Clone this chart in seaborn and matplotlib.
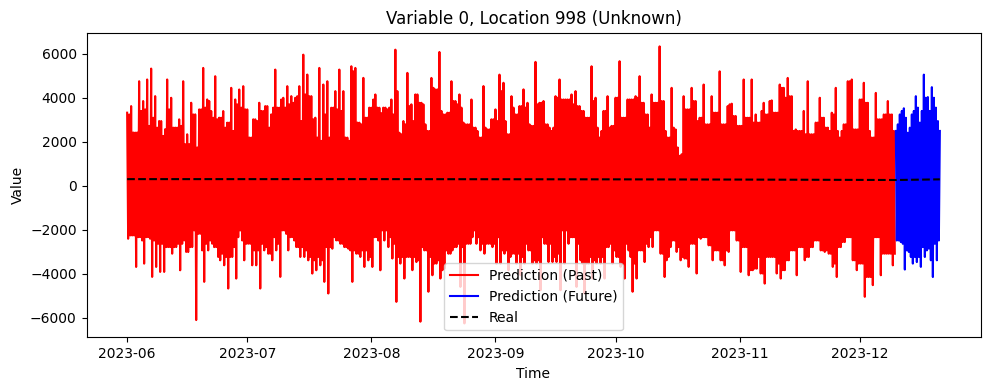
import numpy as np
import pandas as pd
import matplotlib
matplotlib.use("Agg")
import matplotlib.pyplot as plt
import seaborn as sns

past_high = [3320,3620,2415,4750,3850,4830,5325,4073,2942,2264,4830,3998,2641,3018,4750,2339,3772,3244,3470,5355,3923,3395,4978,3093,3395,2867,4450,3923,4375,4526,3470,2188,3018,3772,3395,3620,3244,5280,3546,3998,4526,4073,3998,4526,5958,5054,4073,3093,5355,4601,4750,3546,4300,5280,4300,2188,5431,5355,2867,4903,3093,3546,4149,3546,
3550,3470,3920,6185,2410,2940,5130,3700,4150,3770,3700,2490,4900,4375,6080,3240,3320,4750,3850,4150,2870,2790,3920,2640,2190,4530,2560,3020,3470,5050,4680,2340,4070,3240,3620,4380,3770,2720,5630,3770,3850,2790,2490,4070,4830,3920,3920,4150,4300,3620,3400,3090,5430,4000,2190,3400,4070,2720,4000,5660,3090,3920,3920,4070,4980,3770,3240,
4150,3770,6335,3850,2190,4450,2560,1360,4070,3470,4450,3850,3090,4600,2790,4070,3320,5200,2790,3620,3730,3170,2720,4830,3090,4830,3240,2870,3770,3240,3880,3320,4600,4450,4900,4070,2560,2490,3400,4750,2340,2870,4000,3090,2640,3320,4450,2190,2790,4750,4830,2560,3920,4680,3770,2190,4220,3020,3240,3850,3240]
past_low = [-2411,-2260,-3693,-2336,-3542,-2336,-4145,-3693,-3919,-3919,-2788,-3090,-2788,-3844,-2486,-3014,-2788,-6106,-2185,-4371,-2939,-2637,-2788,-3391,-3617,-4673,-3240,-4221,-2034,-3391,-2637,-3617,-3617,-4673,-2939,-3090,-3391,-2939,-4145,-2034,-2939,-2336,-2788,-3240,-3240,-3391,-3994,-3844,-3617,-4371,-4899,-2863,-2486,-2637,-2788,-2863,-4371,-3090,-3240,-3693,-3391,-3693,-2336,-3844,
-2490,-2790,-3310,-5280,-3540,-4220,-3240,-3840,-3470,-6180,-2940,-4820,-4070,-3540,-4220,-3770,-3090,-2940,-2790,-4600,-6260,-2640,-2340,-2640,-2940,-3090,-2640,-2790,-3540,-3540,-3090,-3840,-3090,-3540,-4070,-3540,-2940,-3540,-3540,-4750,-2640,-3470,-3470,-3470,-4750,-3540,-2640,-2340,-4600,-3390,-4900,-3540,-4220,-3540,-3540,-4220,-2790,-3540,-3240,-3690,-4220,-2940,-4820,-4220,-2940,-3470,-2790,
-2790,-2030,-3090,-4150,-3240,-2490,-3010,-3390,-3310,-3690,-2640,-3990,-2410,-2340,-2710,-3390,-2940,-3390,-3620,-3010,-2030,-2490,-3920,-2790,-4070,-3840,-3770,-3990,-4450,-3240,-3240,-3990,-4220,-3840,-3390,-2940,-4070,-2790,-3390,-3240,-2790,-2490,-2940,-3010,-3090,-3690,-4150,-2790,-2560,-2340,-3390,-3840,-3540,-5050,-4150,-4520,-2340,-4070,-3090,-3090,-3620]
past_high2 = [3240,2420,2420,3400,3470,2720,3090,2640,2940,2570,3470,2640,2640,2720,1890,1890,3240,1740,3470,3550,3850,3090,3020,3090,2640,2870,2490,3700,3550,3470,2190,3020,2940,3400,3620,2640,3550,3550,3920,3550,3700,3770,4070,2940,4150,4070,3020,2190,2040,3240,2190,3550,3470,3400,2190,2040,5200,2870,2790,3090,3550,3920,3550,3300,
3550,3550,3240,4300,2340,2790,3620,2940,4150,3770,2790,2490,4450,4380,3400,3240,3320,3850,3700,3550,2790,2790,2640,2490,2190,2640,2560,3020,2940,4300,2940,2340,3550,3240,3620,3550,2790,2720,3700,3770,2790,2640,2640,4000,3920,3920,3920,3700,3620,3400,3090,3090,3850,2640,2490,3400,2640,2720,4000,3090,3090,3920,3920,4000,3770,3240,2640,
3770,3770,3850,2490,2190,2640,1740,1430,3470,3470,3850,2940,3090,2790,2790,3320,3320,2790,2790,3700,3170,2720,2720,3090,3090,2870,2870,3400,3240,3850,3320,3320,4450,4000,4070,2490,2490,2490,2340,2340,2340,2870,3090,2640,2490,3240,2490,2490,2790,4750,2560,2560,3920,3770,2490,2190,3020,3020,3240,3240,2490]
past_low2 = [-2260,-2260,-2340,-2490,-2340,-2410,-2490,-2640,-2640,-2790,-2790,-2790,-2640,-2640,-3010,-2790,-2030,-2190,-2940,-2640,-2490,-2790,-3240,-3090,-3240,-3240,-2790,-2340,-2490,-2640,-2640,-2940,-2940,-2640,-2790,-3090,-2340,-2640,-2030,-2190,-2340,-2490,-2790,-2790,-2940,-3240,-3390,-3240,-3390,-2790,-2790,-2340,-2490,-2640,-2790,-2940,-2940,-3090,-2940,-2940,-3240,-2340,-2490,-2030,
-2030,-2340,-2640,-3240,-3240,-3240,-3240,-3240,-3390,-2790,-2940,-3240,-3540,-3390,-3840,-2940,-3090,-2790,-2640,-2790,-2640,-2640,-2030,-2340,-2640,-2640,-2640,-2640,-2340,-2940,-2940,-3240,-3090,-3090,-3240,-2640,-2940,-3390,-3390,-2340,-2640,-2640,-3240,-3090,-2030,-2030,-2340,-2340,-2640,-3540,-3540,-3240,-3390,-3240,-3240,-2790,-2640,-2940,-3240,-3540,-2640,-3240,-3540,-2940,-2940,-2640,-2340,
-2030,-2030,-3090,-3390,-2790,-2490,-2790,-3240,-3310,-2640,-2640,-2340,-2340,-2340,-2710,-2940,-2940,-3390,-2940,-2030,-2030,-2490,-2790,-2790,-3840,-3770,-3240,-3990,-3240,-3240,-3240,-3540,-3840,-3390,-2940,-2940,-2790,-2790,-3240,-2790,-2490,-2490,-2940,-2940,-3090,-3540,-2790,-2560,-2340,-2340,-3390,-3540,-3540,-4150,-4150,-2340,-2340,-3090,-3090,-3090,-3090]

future_high = [2490,3240,3520,2410,3240,4070,2870,5050,4030,4480,3550,2490]
future_low = [-2490,-2560,-3810,-3010,-3540,-3470,-3690,-3240,-2860,-4150,-3390,-2640]
future_high2 = [2790,3400,3090,2640,3400,3550,3400,4000,3400,4000,2940,2490]
future_low2 = [-2490,-2640,-2940,-3240,-3240,-3240,-2790,-2940,-3390,-2640,-2490,-2640]

real_dates = ["2023-06-01","2023-07-01","2023-08-01","2023-09-01","2023-10-01","2023-11-01","2023-12-01","2023-12-10","2023-12-21"]
real_values = [300,300,300,295,290,280,265,260,290]

START = "2023-06-01"


def weave(*columns):
    n = min(len(c) for c in columns)
    return np.column_stack([c[:n] for c in columns]).ravel()


past_y = weave(past_high, past_low, past_high2, past_low2)
future_y = weave(future_high, future_low, future_high2, future_low2)[:-3]
all_t = pd.date_range(START, periods=len(past_y) + len(future_y), freq="6h")
past = pd.DataFrame({"t": all_t[:len(past_y)], "v": past_y})
future = pd.DataFrame({"t": all_t[len(past_y):], "v": future_y})
real = pd.DataFrame({"t": pd.to_datetime(real_dates), "v": real_values})

fig = plt.figure(figsize=(9.89, 3.9), dpi=100)
ax = fig.add_axes([86.5 / 989, 1 - 337.3 / 390, (980.5 - 86.5) / 989, (337.3 - 32.5) / 390])
sns.lineplot(data=past, x="t", y="v", color="red", label="Prediction (Past)", ax=ax,
             estimator=None, sort=False, errorbar=None)
sns.lineplot(data=future, x="t", y="v", color="blue", label="Prediction (Future)", ax=ax,
             estimator=None, sort=False, errorbar=None)
sns.lineplot(data=real, x="t", y="v", color="black", linestyle="--", label="Real", ax=ax,
             estimator=None, sort=False, errorbar=None)
ax.set_title("Variable 0, Location 998 (Unknown)")
ax.set_xlabel("Time")
ax.set_ylabel("Value")
ax.legend(loc="lower center")
fig.savefig("out.png", dpi=100)
